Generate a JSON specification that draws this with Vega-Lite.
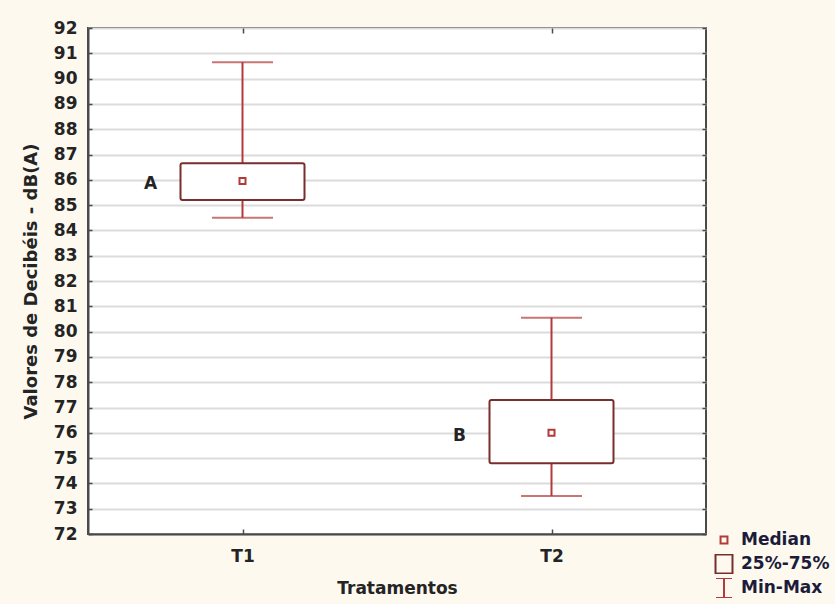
{
  "$schema": "https://vega.github.io/schema/vega-lite/v6.json",
  "width": 618,
  "height": 506,
  "autosize": {"type": "none"},
  "padding": {"left": 88, "top": 28, "right": 129, "bottom": 70},
  "background": "#fdf9ef",
  "config": {
    "font": "DejaVu Sans",
    "view": {"stroke": "#4a4a4a", "strokeWidth": 2, "fill": "white"},
    "axisY": {
      "grid": true, "gridColor": "#dcdcdc", "gridWidth": 2,
      "domainColor": "#4a4a4a", "domainWidth": 2,
      "tickColor": "#4a4a4a", "tickSize": -4, "tickWidth": 1.5,
      "labelFont": "DejaVu Sans", "labelFontSize": 17, "labelFontWeight": "bold", "labelColor": "#242424",
      "labelPadding": 15,
      "titleFont": "DejaVu Sans", "titleFontSize": 18, "titleFontWeight": "bold", "titleColor": "#242424",
      "titlePadding": 13
    },
    "axisX": {
      "grid": false,
      "domainColor": "#4a4a4a", "domainWidth": 2,
      "tickColor": "#4a4a4a", "tickSize": -5, "tickWidth": 1.5,
      "labelFont": "DejaVu Sans", "labelFontSize": 17, "labelFontWeight": "bold", "labelColor": "#242424",
      "labelPadding": 19, "labelAngle": 0,
      "titleFont": "DejaVu Sans", "titleFontSize": 17, "titleFontWeight": "bold", "titleColor": "#242424",
      "titlePadding": 16
    },
    "legend": {
      "labelFont": "DejaVu Sans", "labelFontSize": 17, "labelFontWeight": "bold", "labelColor": "#1c1c3a",
      "symbolStrokeWidth": 2, "symbolSize": 300, "symbolOpacity": 1, "symbolFillColor": "transparent",
      "rowPadding": 4, "labelOffset": 7, "padding": 0, "clipHeight": 20
    }
  },
  "data": {
    "values": [
      {"trat": "T1", "min": 84.5, "q1": 85.2, "median": 85.95, "q3": 86.65, "max": 90.65, "letra": "A", "legenda": "Median"},
      {"trat": "T2", "min": 73.5, "q1": 74.8, "median": 76.0, "q3": 77.3, "max": 80.55, "letra": "B", "legenda": "Median"}
    ]
  },
  "resolve": {"axis": {"x": "independent", "y": "independent"}},
  "layer": [
    {
      "encoding": {
        "x": {"field": "trat", "type": "nominal", "title": "Tratamentos", "scale": {"type": "point", "padding": 0.5}}
      },
      "layer": [
        {
          "mark": {"type": "rule", "color": "#b23a3a", "strokeWidth": 2},
          "encoding": {
            "y": {"field": "min", "type": "quantitative", "title": "Valores de Decibéis - dB(A)", "scale": {"domain": [72, 92], "nice": false, "zero": false}, "axis": {"tickCount": 20}},
            "y2": {"field": "q1"}
          }
        },
        {
          "mark": {"type": "rule", "color": "#b23a3a", "strokeWidth": 2},
          "encoding": {
            "y": {"field": "q3", "type": "quantitative", "title": "Valores de Decibéis - dB(A)"},
            "y2": {"field": "max"}
          }
        },
        {
          "mark": {"type": "tick", "color": "#b23a3a", "size": 61, "thickness": 2},
          "encoding": {"y": {"field": "min", "type": "quantitative", "title": "Valores de Decibéis - dB(A)"}}
        },
        {
          "mark": {"type": "tick", "color": "#b23a3a", "size": 61, "thickness": 2},
          "encoding": {"y": {"field": "max", "type": "quantitative", "title": "Valores de Decibéis - dB(A)"}}
        },
        {
          "mark": {"type": "bar", "size": 124, "fill": "white", "stroke": "#7a2d2d", "strokeWidth": 2, "cornerRadius": 2},
          "encoding": {
            "y": {"field": "q1", "type": "quantitative", "title": "Valores de Decibéis - dB(A)"},
            "y2": {"field": "q3"}
          }
        },
        {
          "mark": {"type": "point", "shape": "square", "size": 36, "fill": "white", "stroke": "#b23a3a", "strokeWidth": 2, "opacity": 1},
          "encoding": {
            "y": {"field": "median", "type": "quantitative", "title": "Valores de Decibéis - dB(A)"}
          }
        },
        {
          "mark": {"type": "point", "opacity": 0},
          "encoding": {
            "y": {"field": "median", "type": "quantitative", "title": "Valores de Decibéis - dB(A)"},
            "shape": {"field": "legenda", "type": "nominal", "scale": {"domain": ["Median", "25%-75%", "Min-Max"], "range": ["M-0.4,-0.4H0.4V0.4H-0.4Z", "M-0.98,-1.1H0.98V1.1H-0.98Z", "M-0.92,-1.15H0.92M0,-1.15V1.15M-0.92,1.15H0.92"]}, "legend": {"orient": "none", "legendX": 626, "legendY": 502, "title": null}},
            "stroke": {"field": "legenda", "type": "nominal", "scale": {"domain": ["Median", "25%-75%", "Min-Max"], "range": ["#b23a3a", "#7a2d2d", "#b23a3a"]}, "legend": {"orient": "none", "legendX": 626, "legendY": 502, "title": null}}
          }
        },
        {
          "mark": {"type": "text", "font": "DejaVu Sans", "fontSize": 17, "fontWeight": "bold", "color": "#242424", "dx": -92, "dy": 3},
          "encoding": {
            "y": {"field": "median", "type": "quantitative", "title": "Valores de Decibéis - dB(A)"},
            "text": {"field": "letra"}
          }
        }
      ]
    },
    {
      "mark": {"type": "point", "opacity": 0},
      "encoding": {
        "x": {"field": "trat", "type": "nominal", "axis": {"orient": "top", "labels": false, "title": null, "domain": false}},
        "y": {"field": "median", "type": "quantitative", "axis": {"orient": "right", "labels": false, "title": null, "domain": false, "grid": false, "tickCount": 20}}
      }
    }
  ]
}
